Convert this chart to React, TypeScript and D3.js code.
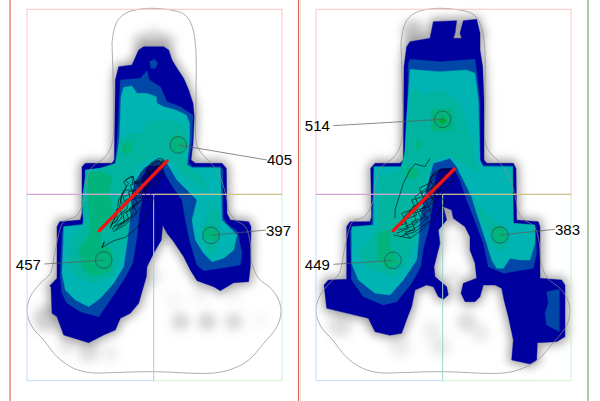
import { useMemo } from 'react';
import * as d3 from 'd3';

type Pt = number[];

// sensor grid units (box is 765 x 1114 units)
const outline: Pt[] = [[335,130],[340,95],[350,65],[372,42],[405,30],[450,25],[510,30],[550,42],[572,70],[585,130],[587,300],[588,430],[600,455],[625,482],[650,512],[665,545],[680,600],[686,635],[705,660],[735,680],[750,730],[755,790],[775,835],[812,865],[835,900],[842,935],[830,980],[790,1030],[745,1080],[700,1105],[650,1118],[590,1120],[500,1116],[430,1115],[330,1118],[270,1118],[220,1105],[170,1070],[130,1020],[95,980],[80,935],[90,890],[120,850],[150,820],[165,750],[190,665],[225,650],[245,620],[255,590],[258,550],[272,505],[315,470],[335,430],[340,380],[335,130]];

const leftDark: Pt[] = [[415,150],[430,140],[490,140],[505,150],[515,180],[530,205],[550,235],[565,270],[578,310],[582,350],[578,430],[572,480],[585,490],[665,490],[678,505],[680,640],[690,660],[745,665],[752,680],[750,800],[745,845],[700,848],[660,872],[640,860],[590,842],[570,810],[550,770],[520,725],[500,700],[487,675],[483,720],[460,760],[440,800],[438,830],[415,910],[390,940],[360,955],[345,990],[310,1005],[265,1028],[190,1005],[170,950],[155,940],[152,860],[148,858],[170,835],[170,680],[178,665],[240,660],[245,640],[245,500],[255,490],[335,490],[342,480],[345,240],[355,200],[395,195]];
const leftMid: Pt[] = [[360,240],[420,235],[440,212],[447,240],[480,260],[500,305],[540,320],[578,345],[575,420],[565,490],[578,500],[660,500],[668,510],[668,650],[680,672],[712,695],[725,760],[720,795],[660,805],[610,812],[590,795],[570,730],[555,660],[545,600],[510,550],[482,497],[445,497],[425,530],[425,600],[417,640],[410,710],[397,790],[370,840],[330,900],[295,950],[240,935],[200,910],[185,880],[180,830],[185,700],[190,680],[245,672],[255,650],[255,510],[345,498],[352,400]];
const leftTeal: Pt[] = [[362,290],[370,262],[395,258],[410,280],[440,280],[468,290],[470,310],[490,320],[525,330],[558,345],[568,370],[568,420],[560,495],[575,503],[660,503],[665,660],[690,685],[710,705],[700,750],[670,775],[635,785],[610,760],[585,720],[575,660],[590,600],[560,570],[530,540],[500,490],[470,478],[430,505],[400,550],[395,600],[390,650],[380,730],[370,800],[340,850],[300,895],[265,920],[225,900],[195,870],[185,820],[190,700],[190,680],[245,675],[258,660],[255,510],[340,500],[352,480],[358,400]];
const leftGreen: Pt[] = [[360,410],[400,400],[430,400],[440,370],[470,358],[520,362],[555,380],[560,410],[555,470],[558,495],[600,525],[625,570],[600,565],[545,520],[510,478],[470,468],[420,490],[380,540],[375,600],[390,640],[375,730],[340,830],[300,840],[265,850],[230,830],[205,790],[215,710],[250,680],[245,600],[255,530],[300,505],[345,490],[352,450]];
const leftGreen2: Pt[] = [[630,600],[655,640],[660,700],[650,740],[635,770],[610,730],[605,690],[625,640]];
const leftDeep: Pt[] = [[368,430],[392,425],[395,450],[382,465],[365,455]];
const leftDeep2: Pt[] = [[510,410],[540,405],[558,430],[540,460],[515,455]];
const leftDeep3: Pt[] = [[262,515],[300,515],[335,530],[325,590],[340,640],[310,665],[300,690],[300,730],[335,750],[335,810],[280,830],[250,810],[235,750],[270,700],[265,620]];
const leftDeep4: Pt[] = [[610,680],[640,680],[655,710],[635,725],[612,710]];
const leftSpot: Pt[] = [[448,185],[462,178],[472,190],[465,205],[452,205]];

const rightDark: Pt[] = [[400,65],[470,62],[465,100],[460,115],[485,115],[480,100],[490,62],[530,58],[540,100],[540,150],[548,200],[552,300],[552,480],[560,490],[640,490],[648,505],[650,660],[715,665],[720,680],[720,835],[785,840],[795,855],[795,1010],[770,1025],[712,1028],[710,1080],[690,1092],[635,1080],[640,1020],[625,950],[612,900],[605,865],[585,855],[550,855],[540,890],[525,905],[495,905],[483,880],[490,850],[530,835],[525,790],[510,750],[510,710],[495,680],[460,655],[455,630],[430,620],[440,660],[415,690],[420,730],[402,800],[405,830],[440,860],[445,885],[430,898],[415,890],[400,860],[380,855],[345,870],[335,920],[325,945],[305,1000],[270,1006],[225,995],[205,955],[80,925],[72,855],[85,840],[140,838],[140,680],[150,665],[210,665],[215,650],[212,505],[225,490],[300,490],[310,480],[312,200],[320,140],[330,125],[390,115]];
const rightMid: Pt[] = [[325,190],[330,178],[420,185],[525,178],[532,230],[540,310],[540,495],[638,497],[640,670],[705,675],[710,760],[700,805],[610,820],[565,800],[550,730],[520,650],[500,600],[480,540],[460,503],[420,505],[405,530],[400,600],[385,690],[370,745],[362,800],[335,850],[290,905],[250,915],[190,890],[155,840],[150,690],[215,675],[222,500],[320,500]];
const rightTeal: Pt[] = [[330,208],[380,212],[420,215],[500,210],[525,220],[535,300],[540,480],[550,500],[638,500],[640,670],[705,675],[705,730],[690,780],[660,780],[630,775],[610,805],[590,805],[575,780],[560,730],[530,640],[515,590],[490,540],[470,500],[450,475],[400,490],[370,600],[360,660],[355,730],[350,780],[310,840],[270,885],[225,880],[175,840],[155,790],[155,680],[220,675],[222,500],[312,500],[320,350]];
const rightGreen: Pt[] = [[330,290],[345,260],[370,285],[430,270],[460,290],[490,330],[500,380],[520,440],[520,480],[540,520],[500,500],[470,480],[450,465],[400,480],[375,540],[350,620],[345,720],[320,790],[280,830],[240,820],[200,800],[175,760],[210,720],[230,680],[240,530],[300,510],[320,440]];
const rightGreen2: Pt[] = [[525,600],[565,650],[600,670],[628,720],[610,755],[585,745],[565,700],[540,650]];
const rightDeep: Pt[] = [[395,330],[455,325],[458,390],[395,395]];
const rightDeep2: Pt[] = [[355,418],[364,435],[355,450],[346,435]];
const rightDeep3: Pt[] = [[320,505],[345,505],[355,525],[340,540],[320,530]];
const rightDeep4: Pt[] = [[235,700],[270,690],[270,740],[300,790],[260,810],[235,780]];
const rightDeep5: Pt[] = [[580,680],[610,680],[625,715],[600,730],[580,720]];
const rightCore: Pt[] = [[428,350],[440,362],[428,374],[417,362]];
const rightPatch: Pt[] = [[740,875],[778,868],[778,995],[740,975],[735,940],[745,910]];

// grey low-pressure blobs: x, y, radius, strength
const leftBlobs: Pt[] = [[420,125,24,.32],[500,125,24,.32],[460,118,30,.3],[540,965,28,.26],[620,965,28,.28],[700,965,28,.24],[140,955,40,.3],[265,1055,32,.22],[200,1035,26,.16],[330,1060,24,.12],[455,830,30,.14],[600,880,22,.1],[700,880,22,.1],[780,960,22,.06],[520,900,22,.08]];
const rightBlobs: Pt[] = [[340,95,34,.4],[545,100,14,.35],[500,965,30,.22],[120,975,36,.2],[220,970,26,.16],[300,1040,30,.14],[420,1040,30,.14],[540,1000,26,.14],[460,830,22,.14],[470,720,20,.08],[395,990,28,.12]];

const leftTraces: Pt[][] = [
  [[305,745],[312,725],[305,742],[340,722],[375,712],[400,692],[430,662],[455,612],[460,590]],
  [[330,685],[358,620],[365,580],[385,550],[375,540],[395,528],[405,550],[423,540],[415,560],[440,530],[450,490],[475,475],[490,478],[480,495],[500,485]],
  [[335,690],[365,650],[360,625],[390,600],[385,575],[415,570],[410,545],[440,525],[435,505],[465,485],[495,482]],
  [[340,680],[372,665],[368,640],[400,625],[392,600],[425,590],[418,560],[450,545],[445,515],[478,500],[490,482]],
  [[345,688],[385,660],[378,635],[412,612],[402,590],[435,575],[428,550],[462,530],[455,505],[485,492]],
  [[332,675],[352,660],[347,630],[375,615],[368,590],[398,580],[390,555],[425,545],[420,520],[455,497],[480,478]],
  [[350,680],[395,650],[388,625],[425,600],[415,580],[445,565],[440,535],[470,520],[490,490]],
  [[338,695],[375,675],[410,640],[400,615],[438,590],[430,565],[460,550],[485,510],[495,490]],
  [[360,672],[405,640],[440,600],[470,555],[492,510]],
  [[370,620],[360,600],[378,560],[370,545],[385,535],[400,530],[395,550],[412,540]],
  [[330,680],[350,640],[355,600],[375,570],[400,570],[395,590],[425,565],[445,530],[470,490]],
  [[342,670],[362,640],[382,625],[376,600],[408,585],[402,560],[432,540],[462,505],[482,485]],
];
const rightTraces: Pt[][] = [
  [[390,475],[375,500],[345,492],[330,510],[310,550],[285,630],[285,655]],
  [[280,705],[330,715],[315,695],[345,690],[335,665],[365,655],[350,630],[385,620],[375,595],[410,575],[400,550],[430,530],[415,515],[450,510]],
  [[290,700],[325,685],[312,660],[350,645],[340,620],[375,605],[365,580],[400,560],[390,535],[420,510],[460,505]],
  [[285,680],[320,670],[305,640],[345,625],[335,600],[368,590],[358,565],[395,545],[410,515],[445,505]],
  [[300,710],[345,695],[385,665],[372,640],[408,615],[395,590],[425,570],[412,550],[440,525],[462,505]],
  [[310,705],[360,675],[395,640],[385,620],[418,590],[410,565],[435,550],[425,525],[455,510]],
  [[295,690],[335,680],[375,650],[360,630],[398,600],[385,575],[420,550],[440,520]],
  [[330,715],[365,690],[405,650],[435,605],[420,590],[445,560],[465,515]],
  [[305,665],[320,640],[355,615],[345,590],[380,565],[400,520]],
  [[320,650],[335,625],[365,600],[380,575],[395,530],[405,515]],
  [[315,680],[350,665],[340,640],[378,628],[368,605],[405,590],[395,565],[428,545],[450,515]],
];

// peak labels
const leftPeaks = [405, 397, 457];
const leftPeakX = [534, 632, 310];
const leftPeakY = [435, 706, 780];
const leftLabelX = [800, 797, 132];
const leftLabelY = [480, 690, 792];
const rightPeaks = [514, 383, 449];
const rightPeakX = [428, 600, 279];
const rightPeakY = [358, 705, 781];
const rightLabelX = [100, 765, 100];
const rightLabelY = [377, 688, 793];

// center of pressure line
const leftCop: Pt[] = [[297,692],[500,483]];
const rightCop: Pt[] = [[280,692],[463,507]];

const colors = {
  dark: '#00009e',
  mid: '#0047a8',
  teal: '#00b4b4',
  green: '#00b4a0',
  deep: '#00b47c',
  core: '#00a832',
};

const W = 600;
const H = 401;

function Panel({ offset, blobs, rings, traces, cop, peaks, peakX, peakY, labelX, labelY, halo, id }: any) {
  const x = useMemo(() => d3.scaleLinear().domain([offset, offset + 765]).range(id === 'l' ? [27, 282] : [316, 571]), [offset, id]);
  const y = useMemo(() => d3.scaleLinear().domain([28, 1142]).range([9.3, 380.7]), []);
  const closed = d3.line<Pt>().x((d) => x(d[0])).y((d) => y(d[1])).curve(d3.curveLinearClosed);
  const open = d3.line<Pt>().x((d) => x(d[0])).y((d) => y(d[1]));
  const smooth = d3.line<Pt>().x((d) => x(d[0])).y((d) => y(d[1])).curve(d3.curveCatmullRom);

  const xMid = x(offset + 380);
  const yMid = y(583);
  return (
    <g>
      <g filter="url(#haze)">
        <path d={closed(halo) as string} fill="#9a9a9a" stroke="#a8a8a8" strokeWidth={7} />
        {blobs.map((b: Pt, i: number) => (
          <circle key={i} cx={x(b[0])} cy={y(b[1])} r={b[2] / 3} fill="#666" opacity={b[3]} />
        ))}
      </g>
      <g filter="url(#soft)">
        {rings.map((r: any, i: number) => (
          <path key={i} d={closed(r.points) as string} fill={r.color} stroke={r.color} strokeWidth={0.4} strokeLinejoin="round" />
        ))}
      </g>
      <path d={smooth(outline.map((p) => [p[0] + offset - 80, p[1]])) as string} fill="none" stroke="#8c8c8c" strokeWidth={0.7} />

      <rect x={x(offset)} y={y(28)} width={x(offset + 765) - x(offset)} height={yMid - y(28)} fill="none" stroke="#ffc4c8" />
      <line x1={x(offset)} x2={xMid} y1={y(1142)} y2={y(1142)} stroke="#c4dcff" />
      <line x1={xMid} x2={x(offset + 765)} y1={y(1142)} y2={y(1142)} stroke="#c4f5c8" />
      <line x1={x(offset)} x2={x(offset)} y1={yMid} y2={y(1142)} stroke="#c4dcff" />
      <line x1={x(offset + 765)} x2={x(offset + 765)} y1={yMid} y2={y(1142)} stroke="#c4f5c8" />
      <line x1={xMid} x2={xMid} y1={yMid} y2={y(1142)} stroke="#9cd6d0" />
      <line x1={x(offset)} x2={xMid} y1={yMid} y2={yMid} stroke="#c89ed8" />
      <line x1={xMid} x2={x(offset + 765)} y1={yMid} y2={yMid} stroke="#c4c07c" />

      {traces.map((t: Pt[], i: number) => (
        <path key={i} d={open(t) as string} fill="none" stroke="#04080c" strokeWidth={0.6} />
      ))}
      <path d={open(cop) as string} fill="none" stroke="#f01414" strokeWidth={3.4} strokeLinecap="round" />

      {peaks.map((v: number, i: number) => {
        const right = labelX[i] > peakX[i];
        return (
          <g key={v}>
            <circle cx={x(peakX[i])} cy={y(peakY[i])} r={8.3} fill="none" stroke="#2a4a4a" strokeWidth={0.7} />
            <line x1={x(peakX[i])} y1={y(peakY[i])} x2={x(labelX[i])} y2={y(labelY[i])} stroke="#5a5a5a" strokeWidth={0.7} />
            <text x={x(labelX[i]) + (right ? 0 : -3.5)} y={y(labelY[i]) + 5.5} textAnchor={right ? 'start' : 'end'} fontSize={15} fontFamily="Liberation Sans, Arial, sans-serif" fill="#000">{v}</text>
          </g>
        );
      })}
    </g>
  );
}

export default function App() {
  const leftRings = [
    { points: leftDark, color: colors.dark },
    { points: leftMid, color: colors.mid },
    { points: leftTeal, color: colors.teal },
    { points: leftGreen, color: colors.green },
    { points: leftGreen2, color: colors.green },
    { points: leftDeep, color: colors.deep },
    { points: leftDeep2, color: colors.deep },
    { points: leftDeep3, color: colors.deep },
    { points: leftDeep4, color: colors.deep },
    { points: leftSpot, color: colors.mid },
  ];
  const rightRings = [
    { points: rightDark, color: colors.dark },
    { points: rightMid, color: colors.mid },
    { points: rightPatch, color: colors.mid },
    { points: rightTeal, color: colors.teal },
    { points: rightGreen, color: colors.green },
    { points: rightGreen2, color: colors.green },
    { points: rightDeep, color: colors.deep },
    { points: rightDeep2, color: colors.deep },
    { points: rightDeep3, color: colors.deep },
    { points: rightDeep4, color: colors.deep },
    { points: rightDeep5, color: colors.deep },
    { points: rightCore, color: colors.core },
  ];

  return (
    <svg width={W} height={H} style={{ position: 'absolute', left: 0, top: 0, background: '#fff' }}>
      <defs>
        <filter id="haze" x="-20%" y="-20%" width="140%" height="140%">
          <feGaussianBlur stdDeviation={5} />
        </filter>
        <filter id="soft" x="-5%" y="-5%" width="110%" height="110%">
          <feGaussianBlur stdDeviation={0.7} />
        </filter>
      </defs>
      <line x1={10} x2={10} y1={0} y2={H} stroke="#e8615c" strokeWidth={1.2} />
      <line x1={298.5} x2={298.5} y1={0} y2={H} stroke="#e8615c" strokeWidth={1.2} />
      <line x1={300.5} x2={300.5} y1={0} y2={H} stroke="#cfe9cf" strokeWidth={1} />
      <line x1={588} x2={588} y1={0} y2={H} stroke="#79a679" strokeWidth={1.2} />
      <Panel id="l" offset={80} blobs={leftBlobs} halo={leftDark} rings={leftRings} traces={leftTraces} cop={leftCop}
        peaks={leftPeaks} peakX={leftPeakX} peakY={leftPeakY} labelX={leftLabelX} labelY={leftLabelY} />
      <Panel id="r" offset={48} blobs={rightBlobs} halo={rightDark} rings={rightRings} traces={rightTraces} cop={rightCop}
        peaks={rightPeaks} peakX={rightPeakX} peakY={rightPeakY} labelX={rightLabelX} labelY={rightLabelY} />
    </svg>
  );
}
